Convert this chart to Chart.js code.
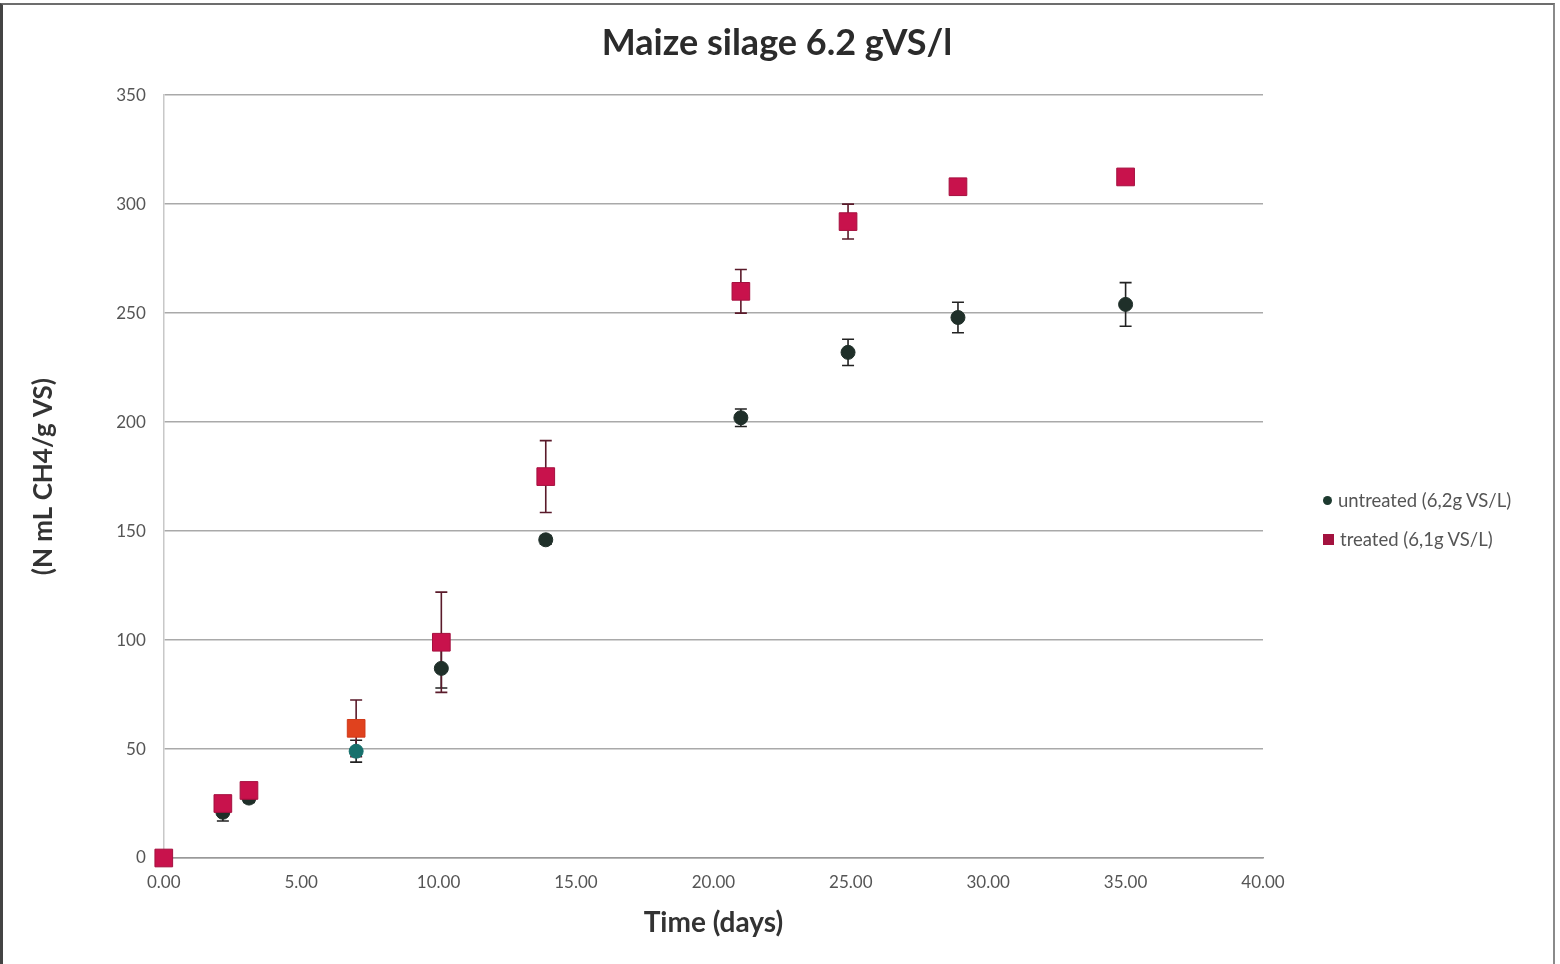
<!DOCTYPE html>
<html>
<head>
<meta charset="utf-8">
<script src="https://cdn.jsdelivr.net/npm/chart.js@4/dist/chart.umd.min.js"></script>
<style>
  html, body { margin: 0; padding: 0; background: #fff; }
  #wrap { position: relative; width: 1560px; height: 964px; }
  #frame { position: absolute; left: 0; top: 3px; width: 1550px; height: 970px;
           border-top: 2px solid #6d6d6d; border-right: 2px solid #8a8a8a; border-left: 3px solid #444; }
  #legend { position: absolute; left: 1323px; top: 481px; font-family: Lato, "Open Sans", sans-serif;
            font-size: 18.5px; color: #555; line-height: 39px; }
  #legend span.mk { display: inline-block; vertical-align: middle; margin-right: 6px; position: relative; top: -2px; }
</style>
</head>
<body>
<div id="wrap">
  <canvas id="chart" width="1560" height="964"></canvas>
  <div id="frame"></div>
  <div id="legend">
    <div><span class="mk" style="width:9px;height:9px;border-radius:50%;background:#1d3a2f"></span>untreated (6,2g VS/L)</div>
    <div><span class="mk" style="width:11px;height:11px;background:#a3123f"></span>treated (6,1g VS/L)</div>
  </div>
</div>
<script>
// ========== DATA ==========
const days = [0, 2.15, 3.1, 7.0, 10.1, 13.9, 21.0, 24.9, 28.9, 35.0];
const untreated = [0, 21, 27.5, 49, 87, 146, 202, 232, 248, 254];
const untreatedErr = [0, 4, 2, 5, 9, 2, 4, 6, 7, 10];
const treated = [0, 25, 31, 59.5, 99, 175, 260, 292, 308, 312.5];
const treatedErr = [0, 2, 2, 13, 23, 16.5, 10, 8, 3, 3];
const yTicks = [0, 50, 100, 150, 200, 250, 300, 350];
const xTicks = [0, 5, 10, 15, 20, 25, 30, 35, 40];

const FONT = 'Lato, "Open Sans", sans-serif';

// error bars drawn from the chart's own scales
const errorBars = {
    id: 'errorBars',
    beforeDatasetsDraw(chart) {
        const ctx = chart.ctx;
        const xs = chart.scales.x, ys = chart.scales.y;
        const sets = [
            { vals: untreated, err: untreatedErr, color: '#222' },
            { vals: treated, err: treatedErr, color: '#5a1a2a' }
        ];
        ctx.save();
        ctx.lineWidth = 1.6;
        sets.forEach(s => {
            ctx.strokeStyle = s.color;
            days.forEach((d, i) => {
                if (!s.err[i]) return;
                const px = xs.getPixelForValue(d);
                const top = ys.getPixelForValue(s.vals[i] + s.err[i]);
                const bot = ys.getPixelForValue(s.vals[i] - s.err[i]);
                ctx.beginPath();
                ctx.moveTo(px, top); ctx.lineTo(px, bot);
                ctx.moveTo(px - 6, top); ctx.lineTo(px + 6, top);
                ctx.moveTo(px - 6, bot); ctx.lineTo(px + 6, bot);
                ctx.stroke();
            });
        });
        ctx.restore();
    }
};

const canvas = document.getElementById('chart');
new Chart(canvas.getContext('2d'), {
    type: 'scatter',
    data: {
        datasets: [
            // treated first so its squares sit on top
            {
                label: 'treated (6,1g VS/L)',
                data: days.map((d, i) => ({ x: d, y: treated[i] })),
                pointStyle: 'rect',
                pointRadius: 12.5,
                clip: false,
                backgroundColor: c => c.dataIndex === 3 ? '#e0421e' : '#c8124c',
                borderColor: c => c.dataIndex === 3 ? '#d03a1a' : '#a5103f',
                borderWidth: 1
            },
            {
                label: 'untreated (6,2g VS/L)',
                data: days.map((d, i) => ({ x: d, y: untreated[i] })),
                pointStyle: 'circle',
                pointRadius: 7,
                clip: false,
                backgroundColor: c => c.dataIndex === 3 ? '#17706c' : '#1f2f29',
                borderColor: c => c.dataIndex === 3 ? '#17706c' : '#1f2f29',
                borderWidth: 1
            }
        ]
    },
    options: {
        responsive: false,
        animation: false,
        devicePixelRatio: 1,
        layout: { padding: { left: 0, right: 6, top: 10, bottom: 20 } },
        plugins: {
            legend: { display: false },
            tooltip: { enabled: false },
            title: {
                display: true,
                text: 'Maize silage 6.2 gVS/l',
                color: '#2b2b2b',
                font: { family: FONT, size: 36, weight: 'bold' },
                padding: { top: 12, bottom: 30 }
            }
        },
        scales: {
            x: {
                type: 'linear',
                min: 0, max: 40,
                afterBuildTicks: a => { a.ticks = xTicks.map(v => ({ value: v })); },
                ticks: {
                    color: '#555',
                    font: { family: FONT, size: 17 },
                    padding: 6,
                    maxRotation: 0,
                    callback: v => v.toFixed(2)
                },
                grid: { display: false },
                border: { display: true, color: '#999', width: 1.5 },
                title: {
                    display: true,
                    text: 'Time (days)',
                    color: '#333',
                    font: { family: FONT, size: 28, weight: 'bold' },
                    padding: { top: 8 }
                }
            },
            y: {
                min: 0, max: 350,
                afterBuildTicks: a => { a.ticks = yTicks.map(v => ({ value: v })); },
                ticks: {
                    color: '#555',
                    font: { family: FONT, size: 17 },
                    padding: 18
                },
                grid: { color: '#a9a9a9', lineWidth: 1.5, drawTicks: false },
                border: { display: true, color: '#c8c8c8', width: 1.5 },
                title: {
                    display: true,
                    text: '(N mL CH4/g VS)',
                    color: '#333',
                    font: { family: FONT, size: 26, weight: 'bold' },
                    padding: { top: 28, bottom: 39 }
                }
            },
            // empty right-hand space reserved for the legend
            yRight: {
                position: 'right',
                display: true,
                ticks: { display: false },
                grid: { display: false },
                border: { display: false },
                afterFit: a => { a.width = 291; }
            }
        }
    },
    plugins: [errorBars]
});
</script>
</body>
</html>
